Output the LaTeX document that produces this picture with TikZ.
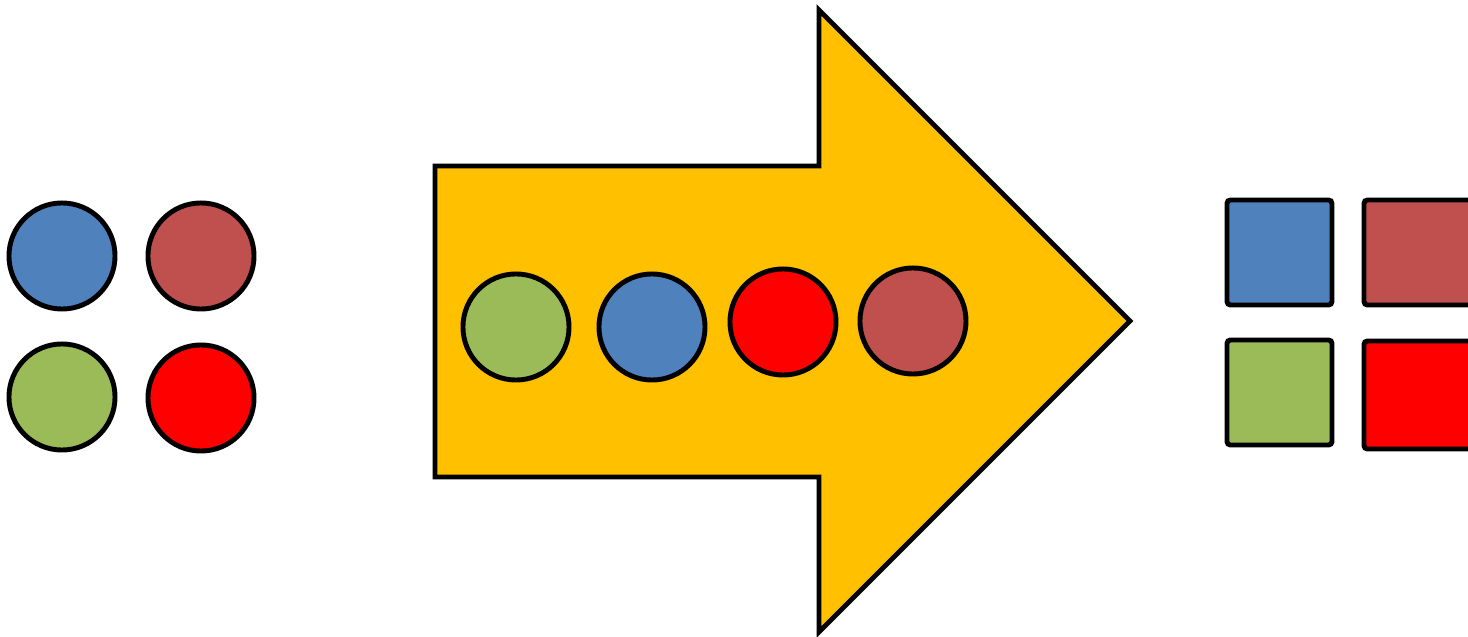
\documentclass[tikz,border=0pt]{standalone}
\usepackage{tikz}
\usetikzlibrary{positioning}
\definecolor{dotblue}{HTML}{4F81BD}
\definecolor{dotbrown}{HTML}{C0504D}
\definecolor{dotgreen}{HTML}{9BBB59}
\definecolor{dotred}{HTML}{FF0000}
\definecolor{arrowgold}{HTML}{FFC000}
\tikzset{
  dotnode/.style={
    draw=black,
    circle,
    line width=1.4pt,
    minimum size=1.06cm,
    inner sep=0pt
  },
  squarenode/.style={
    draw=black,
    rectangle,
    rounded corners=1pt,
    line width=1.4pt,
    minimum width=1.05cm,
    minimum height=1.05cm,
    inner sep=0pt
  },
  bigarrow/.style={
    draw=black,
    fill=arrowgold,
    line width=1.4pt,
    line join=miter
  }
}
\begin{document}
\begin{tikzpicture}[x=0.01cm, y=-0.01cm]
  \clip (0,0) rectangle (1468,637);
  \fill[white] (0,0) rectangle (1468,637);
  % input dots
  \node[dotnode, fill=dotblue] (inblue) at (62,256) {};
  \node[dotnode, fill=dotbrown] (inbrown) at (201,256) {};
  \node[dotnode, fill=dotgreen] (ingreen) at (62,397) {};
  \node[dotnode, fill=dotred] (inred) at (201,398) {};
  % the arrow
  \draw[bigarrow] (435,166) -- (819,166) -- (819,10) -- (1130,321)
    -- (819,632) -- (819,477) -- (435,477) -- cycle;
  \node[dotnode, fill=dotgreen] (rowgreen) at (516,327) {};
  \node[dotnode, fill=dotblue] (rowblue) at (652,327) {};
  \node[dotnode, fill=dotred] (rowred) at (783,322) {};
  \node[dotnode, fill=dotbrown] (rowbrown) at (913,321) {};
  % output squares
  \node[squarenode, fill=dotblue] (outblue) at (1279.5,252.5) {};
  \node[squarenode, fill=dotbrown, minimum width=1.1cm] (outbrown) at (1419,252.5) {};
  \node[squarenode, fill=dotgreen] (outgreen) at (1279.5,392.5) {};
  \node[squarenode, fill=dotred, minimum width=1.1cm, minimum height=1.08cm] (outred) at (1419,395) {};
\end{tikzpicture}
\end{document}
